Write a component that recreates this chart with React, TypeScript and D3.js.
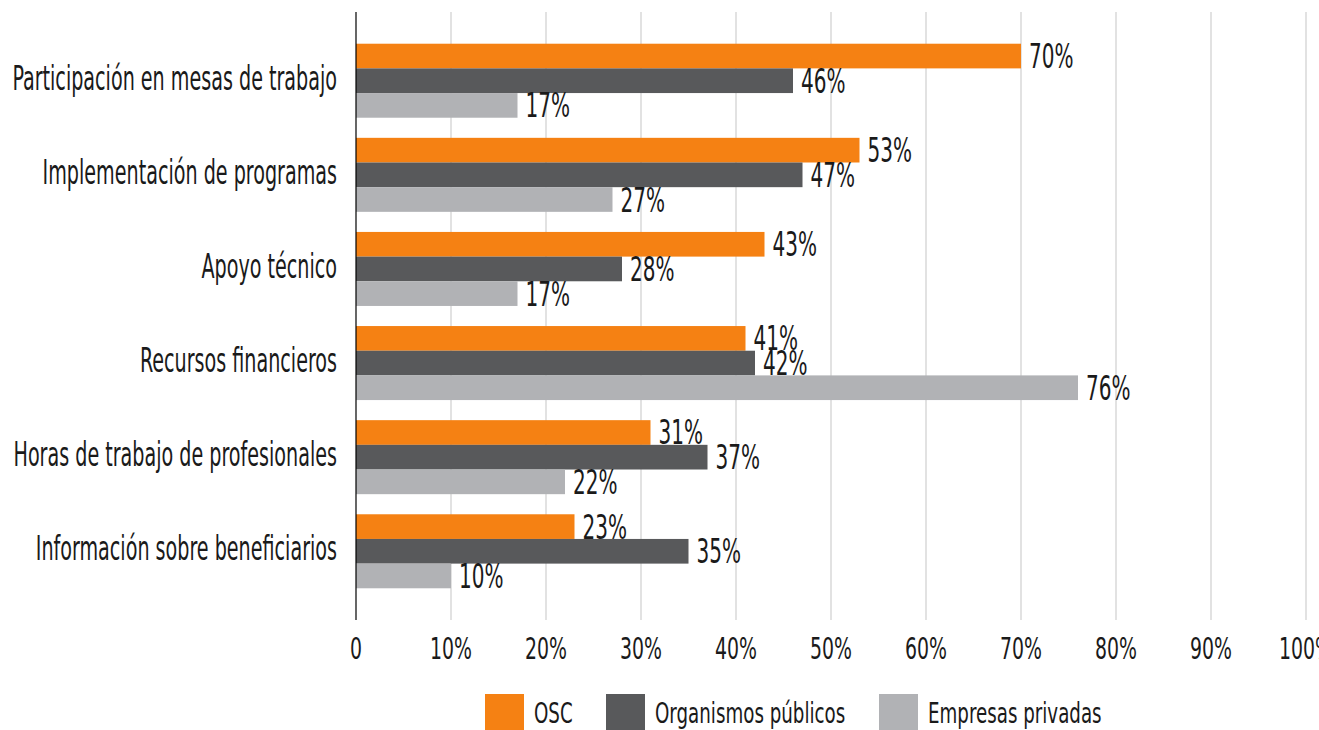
import React from "react";
import * as d3 from "d3";

const categories = [
  "Participación en mesas de trabajo",
  "Implementación de programas",
  "Apoyo técnico",
  "Recursos financieros",
  "Horas de trabajo de profesionales",
  "Información sobre beneficiarios",
];
const seriesNames = ["OSC", "Organismos públicos", "Empresas privadas"];
const osc = [70, 53, 43, 41, 31, 23];
const publicos = [46, 47, 28, 42, 37, 35];
const privadas = [17, 27, 17, 76, 22, 10];
const xTicks = [0, 10, 20, 30, 40, 50, 60, 70, 80, 90, 100];
const tickLabels = ["0", "10%", "20%", "30%", "40%", "50%", "60%", "70%", "80%", "90%", "100%"];

const colors = ["#F58113", "#58595B", "#B1B2B5"];
const FONT = "'DejaVu Sans Condensed', 'DejaVu Sans', sans-serif";

export default function App() {
  const W = 1319, H = 730;
  const x0 = 356, x1 = 1306;
  const yTop = 12, yBot = 620;
  const x = d3.scaleLinear().domain([0, 100]).range([x0, x1]);
  const y = d3.scaleBand().domain(categories).range([yTop, yBot]).paddingInner(0.2136).paddingOuter(0.337);
  const series = [osc, publicos, privadas];
  const sub = d3.scaleBand().domain(["0", "1", "2"]).range([0, y.bandwidth()]);

  const T = (props: { x: number; y: number; size: number; k: number; anchor?: string; children: any }) => (
    <g transform={`translate(${props.x},${props.y}) scale(${props.k},1)`}>
      <text x={0} y={0} fontSize={props.size} fontFamily={FONT} fill="#1a1a1a" textAnchor={props.anchor || "start"}>
        {props.children}
      </text>
    </g>
  );

  const legendItems = [
    { sx: 485, tx: 534 },
    { sx: 606, tx: 655 },
    { sx: 879, tx: 928 },
  ];

  return (
    <svg width={W} height={H} style={{ position: "absolute", left: 0, top: 0 }}>
      <rect x={0} y={0} width={W} height={H} fill="#fff" />
      {xTicks.slice(1).map((t) => (
        <line key={t} x1={x(t)} x2={x(t)} y1={yTop} y2={yBot} stroke="#D9D9D9" strokeWidth={1.5} />
      ))}
      {categories.map((c, i) => (
        <g key={c}>
          {series.map((s, j) => {
            const by = (y(c) as number) + (sub(String(j)) as number);
            const bh = sub.bandwidth();
            return (
              <g key={j}>
                <rect x={x(0)} y={by} width={x(s[i]) - x(0)} height={bh} fill={colors[j]} />
                <T x={x(s[i]) + 8} y={by + bh / 2 + 12} size={33} k={0.675}>{`${s[i]}%`}</T>
              </g>
            );
          })}
          <T x={337} y={(y(c) as number) + y.bandwidth() / 2 + 9} size={33} k={0.645} anchor="end">{c}</T>
        </g>
      ))}
      <line x1={x0} x2={x0} y1={yTop} y2={yBot} stroke="#000" strokeWidth={1.2} />
      {xTicks.map((t, i) => (
        <T key={t} x={x(t)} y={659} size={30} k={0.7} anchor="middle">{tickLabels[i]}</T>
      ))}
      {seriesNames.map((n, i) => (
        <g key={n}>
          <rect x={legendItems[i].sx} y={694} width={39} height={39} fill={colors[i]} />
          <T x={legendItems[i].tx} y={723} size={29} k={0.7}>{n}</T>
        </g>
      ))}
    </svg>
  );
}
